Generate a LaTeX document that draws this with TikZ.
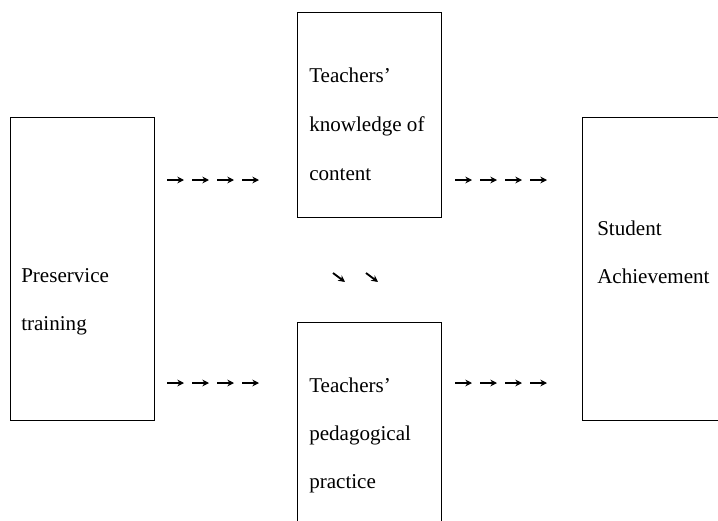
\documentclass[tikz,border=0pt]{standalone}
\usepackage{fontspec}
\setmainfont{Liberation Serif}
\usetikzlibrary{arrows.meta}

\begin{document}
\begin{tikzpicture}[
          x=0.75pt, y=-0.75pt,
          box/.style={draw, line width=0.7pt, anchor=north west, inner sep=0pt, outer sep=0pt},
          txt/.style={anchor=base west, inner sep=0pt, font=\fontsize{15.8}{18}\selectfont},
          chain arrow/.style={-{Stealth[length=5pt, width=5pt]}, line width=1.4pt}
    ]
    \useasboundingbox (0,0) rectangle (718,521);

    % boxes
    \node[box, minimum width=108pt, minimum height=227.25pt] (pre) at (10,117) {};
    \node[box, minimum width=108pt, minimum height=153.75pt] (know) at (297,12) {};
    \node[box, minimum width=108pt, minimum height=165pt] (ped) at (297,322) {};
    \node[box, minimum width=120pt, minimum height=227.25pt] (ach) at (582,117) {};

    % texts
    \foreach \t [count=\i from 0] in {Preservice,training}
        \node[txt] (pre-l\i) at ([shift={(11,165+48*\i)}]pre.north west) {\t};
    \foreach \t [count=\i from 0] in {Teachers',knowledge of,content}
        \node[txt] (know-l\i) at ([shift={(12,70+49*\i)}]know.north west) {\t};
    \foreach \t [count=\i from 0] in {Teachers',pedagogical,practice}
        \node[txt] (ped-l\i) at ([shift={(12,70+48*\i)}]ped.north west) {\t};
    \foreach \t [count=\i from 0] in {Student,Achievement}
        \node[txt] (ach-l\i) at ([shift={(15,118+48*\i)}]ach.north west) {\t};

    % arrow chains
    \coordinate (pre-know) at (167,180);
    \coordinate (pre-ped) at (167,383);
    \coordinate (know-ach) at (455,180);
    \coordinate (ped-ach) at (455,383);
    \coordinate (know-ped) at (333,273);

    \foreach \c in {pre-know, pre-ped, know-ach, ped-ach}
        \foreach \k in {0,...,3}
            \draw[chain arrow] ([shift={(25*\k,0)}]\c) -- ++(17,0);
    \foreach \k in {0,1}
        \draw[chain arrow] ([shift={(33*\k,0)}]know-ped) -- ++(12,9);

\end{tikzpicture}
\end{document}
